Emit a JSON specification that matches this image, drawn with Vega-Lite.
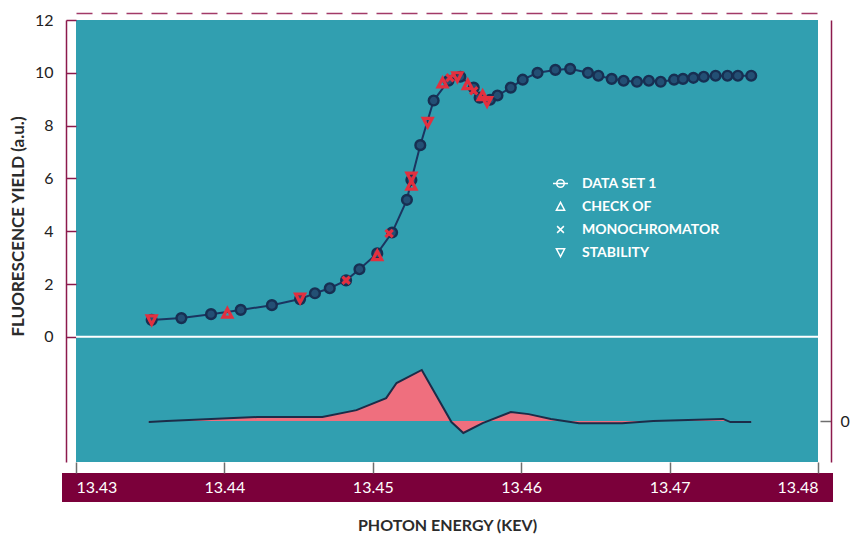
{
  "$schema": "https://vega.github.io/schema/vega-lite/v6.json",
  "width": 742,
  "height": 442,
  "autosize": {"type": "none"},
  "padding": {"left": 76, "top": 20, "right": 32, "bottom": 74},
  "background": "white",
  "config": {
    "view": {"fill": "#319fb0", "stroke": null},
    "font": "Lato",
    "axis": {"grid": false}
  },
  "resolve": {
    "scale": {"y": "independent"},
    "axis": {"x": "independent", "y": "independent"}
  },
  "layer": [
    {
      "data": {
        "values": [
          {"energy": 13.4349, "difference": -0.04},
          {"energy": 13.4361, "difference": 0.0},
          {"energy": 13.4422, "difference": 0.15},
          {"energy": 13.4466, "difference": 0.15},
          {"energy": 13.4489, "difference": 0.41},
          {"energy": 13.4509, "difference": 0.86},
          {"energy": 13.4516, "difference": 1.43},
          {"energy": 13.4533, "difference": 1.92},
          {"energy": 13.4553, "difference": -0.04},
          {"energy": 13.4561, "difference": -0.45},
          {"energy": 13.4574, "difference": -0.08},
          {"energy": 13.4593, "difference": 0.34},
          {"energy": 13.4605, "difference": 0.26},
          {"energy": 13.462, "difference": 0.08},
          {"energy": 13.4639, "difference": -0.08},
          {"energy": 13.4668, "difference": -0.08},
          {"energy": 13.4689, "difference": 0.0},
          {"energy": 13.4736, "difference": 0.08},
          {"energy": 13.4741, "difference": -0.04},
          {"energy": 13.4755, "difference": -0.04}
        ]
      },
      "encoding": {
        "x": {
          "field": "energy",
          "type": "quantitative",
          "scale": {"domain": [13.43, 13.48], "nice": false, "zero": false},
          "axis": {
            "orient": "bottom",
            "offset": 25,
            "zindex": 0,
            "domainColor": "#7b003a",
            "domainWidth": 29,
            "domainCap": "square",
            "ticks": false,
            "labels": false,
            "title": "PHOTON ENERGY (KEV)",
            "titleFont": "Lato",
            "titleFontSize": 16,
            "titleFontWeight": "bold",
            "titleColor": "#2b2b2b",
            "titleBaseline": "middle",
            "titleY": 38
          }
        },
        "y": {
          "field": "difference",
          "type": "quantitative",
          "scale": {"domain": [-1.54, 15.08], "nice": false, "zero": false},
          "axis": {
            "orient": "right",
            "offset": 13,
            "values": [0],
            "tickSize": -11,
            "tickColor": "#6e6e6e",
            "tickWidth": 1.5,
            "domainColor": "#8c1a4c",
            "domainWidth": 1.5,
            "labelFontSize": 16,
            "labelColor": "#222222",
            "labelPadding": 20,
            "title": null
          }
        }
      },
      "layer": [
        {"mark": {"type": "area", "color": "#ef6f7e", "opacity": 1}, "encoding": {"y2": {"datum": 0}}},
        {"mark": {"type": "line", "color": "#1c2c48", "strokeWidth": 2}}
      ]
    },
    {
      "encoding": {
        "x": {
          "field": "energy",
          "type": "quantitative",
          "scale": {"domain": [13.43, 13.48], "nice": false, "zero": false},
          "axis": {
            "orient": "bottom",
            "offset": 11,
            "zindex": 1,
            "domain": false,
            "tickSize": -11,
            "tickColor": "#6e6e6e",
            "tickWidth": 1.5,
            "values": [13.43, 13.44, 13.45, 13.46, 13.47, 13.48],
            "format": ".2f",
            "labelColor": "white",
            "labelFont": "Lato",
            "labelFontSize": 16,
            "labelBaseline": "middle",
            "labelPadding": 25,
            "labelFlush": true,
            "title": null
          }
        },
        "y": {
          "field": "yield",
          "type": "quantitative",
          "scale": {"domain": [-4.74, 12], "nice": false, "zero": false},
          "axis": {
            "orient": "left",
            "offset": 10,
            "values": [0, 2, 4, 6, 8, 10, 12],
            "tickSize": -10,
            "tickColor": "#8c1a4c",
            "tickWidth": 1.5,
            "domainColor": "#8c1a4c",
            "domainWidth": 1.5,
            "labelFont": "Lato",
            "labelFontSize": 16,
            "labelColor": "#222222",
            "labelPadding": 23,
            "title": "FLUORESCENCE YIELD (a.u.)",
            "titleFont": "Lato",
            "titleFontSize": 17,
            "titleFontWeight": "bold",
            "titleColor": "#2b2b2b",
            "titleBaseline": "middle",
            "titleX": -48,
            "titleY": 206
          }
        }
      },
      "layer": [
        {
          "data": {"name": "dataset1", "values": [
            {"energy": 13.4351, "yield": 0.64},
            {"energy": 13.4371, "yield": 0.71},
            {"energy": 13.4391, "yield": 0.86},
            {"energy": 13.4411, "yield": 1.02},
            {"energy": 13.4432, "yield": 1.2},
            {"energy": 13.4451, "yield": 1.43},
            {"energy": 13.4461, "yield": 1.65},
            {"energy": 13.4471, "yield": 1.84},
            {"energy": 13.4482, "yield": 2.14},
            {"energy": 13.4491, "yield": 2.56},
            {"energy": 13.4503, "yield": 3.16},
            {"energy": 13.4513, "yield": 3.95},
            {"energy": 13.4523, "yield": 5.19},
            {"energy": 13.4526, "yield": 5.94},
            {"energy": 13.4532, "yield": 7.26},
            {"energy": 13.4541, "yield": 8.95},
            {"energy": 13.4551, "yield": 9.7},
            {"energy": 13.4559, "yield": 9.85},
            {"energy": 13.4568, "yield": 9.44},
            {"energy": 13.4572, "yield": 9.06},
            {"energy": 13.4579, "yield": 8.98},
            {"energy": 13.4584, "yield": 9.14},
            {"energy": 13.4593, "yield": 9.44},
            {"energy": 13.4601, "yield": 9.74},
            {"energy": 13.4611, "yield": 10.0},
            {"energy": 13.4623, "yield": 10.11},
            {"energy": 13.4633, "yield": 10.15},
            {"energy": 13.4645, "yield": 10.0},
            {"energy": 13.4652, "yield": 9.89},
            {"energy": 13.4661, "yield": 9.77},
            {"energy": 13.4669, "yield": 9.7},
            {"energy": 13.4678, "yield": 9.66},
            {"energy": 13.4686, "yield": 9.7},
            {"energy": 13.4694, "yield": 9.66},
            {"energy": 13.4703, "yield": 9.74},
            {"energy": 13.4709, "yield": 9.77},
            {"energy": 13.4716, "yield": 9.81},
            {"energy": 13.4723, "yield": 9.85},
            {"energy": 13.4731, "yield": 9.89},
            {"energy": 13.4739, "yield": 9.89},
            {"energy": 13.4746, "yield": 9.89},
            {"energy": 13.4755, "yield": 9.89}
          ]},
          "mark": {"type": "line", "color": "#1b3560", "strokeWidth": 2}
        },
        {
          "data": {"name": "dataset1"},
          "mark": {"type": "point", "shape": "circle", "size": 95, "filled": true, "fill": "#234f74", "stroke": "#172f52", "strokeWidth": 2.4, "opacity": 1}
        },
        {
          "data": {"values": [
            {"energy": 13.4351, "yield": 0.64, "series": "Stability"},
            {"energy": 13.4402, "yield": 0.9, "series": "Check of"},
            {"energy": 13.4451, "yield": 1.47, "series": "Stability"},
            {"energy": 13.4482, "yield": 2.14, "series": "Monochromator"},
            {"energy": 13.4503, "yield": 3.08, "series": "Check of"},
            {"energy": 13.4511, "yield": 3.91, "series": "Monochromator"},
            {"energy": 13.4526, "yield": 6.05, "series": "Stability"},
            {"energy": 13.4526, "yield": 5.75, "series": "Check of"},
            {"energy": 13.4537, "yield": 8.12, "series": "Stability"},
            {"energy": 13.4547, "yield": 9.62, "series": "Check of"},
            {"energy": 13.4552, "yield": 9.81, "series": "Monochromator"},
            {"energy": 13.4557, "yield": 9.85, "series": "Stability"},
            {"energy": 13.4564, "yield": 9.55, "series": "Check of"},
            {"energy": 13.4568, "yield": 9.32, "series": "Monochromator"},
            {"energy": 13.4574, "yield": 9.14, "series": "Check of"},
            {"energy": 13.4577, "yield": 8.91, "series": "Stability"}
          ]},
          "mark": {"type": "point", "size": 260, "filled": false, "color": "#e2303f", "strokeWidth": 3.2, "opacity": 1},
          "encoding": {
            "shape": {
              "field": "series",
              "type": "nominal",
              "scale": {
                "domain": ["Data set 1", "Check of", "Monochromator", "Stability"],
                "range": [
                  "M-1,0L1,0M-0.5,0A0.5,0.5,0,1,1,0.5,0A0.5,0.5,0,1,1,-0.5,0",
                  "M0,-0.55L0.55,0.5L-0.55,0.5Z",
                  "M-0.45,-0.45L0.45,0.45M0.45,-0.45L-0.45,0.45",
                  "M0,0.55L0.55,-0.5L-0.55,-0.5Z"
                ]
              },
              "legend": {
                "orient": "none",
                "legendX": 476,
                "legendY": 155,
                "title": null,
                "padding": 0,
                "labelColor": "white",
                "labelFont": "Lato",
                "labelFontSize": 14,
                "labelFontWeight": "bold",
                "labelExpr": "upper(datum.label)",
                "labelOffset": 13,
                "symbolSize": 225,
                "rowPadding": 7,
                "symbolStrokeColor": "white",
                "symbolStrokeWidth": 1.5,
                "symbolFillColor": "transparent"
              }
            }
          }
        }
      ]
    },
    {
      "data": {"values": [{}]},
      "mark": {"type": "rule", "color": "white", "strokeWidth": 2},
      "encoding": {
        "x": {
          "datum": 13.43,
          "type": "quantitative",
          "scale": {"domain": [13.43, 13.48], "nice": false, "zero": false},
          "axis": {
            "orient": "top",
            "offset": 7,
            "domainColor": "#a23a68",
            "domainDash": [16, 9],
            "domainWidth": 1.5,
            "ticks": false,
            "labels": false,
            "title": null
          }
        },
        "x2": {"datum": 13.48},
        "y": {
          "datum": 0,
          "type": "quantitative",
          "scale": {"domain": [-4.74, 12], "nice": false, "zero": false},
          "axis": null
        }
      }
    }
  ]
}
